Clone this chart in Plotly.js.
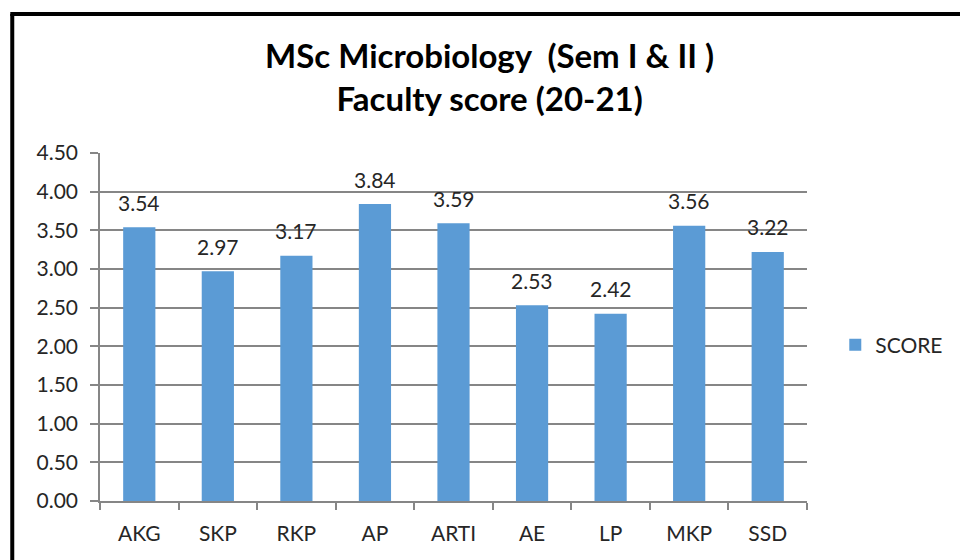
<!DOCTYPE html>
<html>
<head>
<meta charset="utf-8">
<script src="https://cdn.plot.ly/plotly-3.0.1.min.js"></script>
<style>html,body{margin:0;padding:0;background:#fff;}#chart{width:960px;height:560px;}</style>
</head>
<body>
<div id="chart"></div>
<script>
const categories = ["AKG", "SKP", "RKP", "AP", "ARTI", "AE", "LP", "MKP", "SSD"];
const scores = [3.54, 2.97, 3.17, 3.84, 3.59, 2.53, 2.42, 3.56, 3.22];
const seriesName = "SCORE";
const yTickValues = [0, 0.5, 1, 1.5, 2, 2.5, 3, 3.5, 4, 4.5];

const FONT = "Lato, Carlito, Calibri, 'Open Sans', sans-serif";
const GRAY = "#868686";
const TXT = "#262626";
const FS = 21;

const trace = {
  type: "bar",
  x: categories,
  y: scores,
  name: seriesName,
  marker: { color: "#5B9BD5" },
  showlegend: true,
  hoverinfo: "x+y"
};

const labels = categories.map((c, i) => ({
  x: c, y: scores[i], xref: "x", yref: "y",
  text: scores[i].toFixed(2),
  showarrow: false, yshift: 25,
  font: { family: FONT, size: FS, color: TXT }
}));

const layout = {
  width: 960, height: 560,
  paper_bgcolor: "#ffffff", plot_bgcolor: "#ffffff",
  margin: { l: 100, r: 151, t: 153, b: 59, pad: 0 },
  font: { family: FONT, size: FS, color: TXT },
  title: {
    text: "<b>MSc Microbiology  (Sem I &amp; II )<br>Faculty score (20-21)</b>",
    font: { family: FONT, size: 33, color: "#000000" },
    x: 0.51, xref: "container", xanchor: "center",
    y: 0.878, yref: "container", yanchor: "top"
  },
  bargap: 0.59,
  xaxis: {
    type: "category",
    showline: true, linecolor: GRAY, linewidth: 1.5,
    ticks: "outside", tickson: "boundaries", ticklen: 7, tickcolor: GRAY, tickwidth: 1.5,
    showgrid: false, zeroline: false,
    tickfont: { family: FONT, size: FS, color: TXT },
    ticklabelstandoff: 13
  },
  yaxis: {
    range: [0, 4.5], tickvals: yTickValues, tickformat: ".2f",
    showline: true, linecolor: GRAY, linewidth: 1.5,
    ticks: "outside", ticklen: 8, tickcolor: GRAY, tickwidth: 1.5,
    showgrid: true, gridcolor: GRAY, gridwidth: 1.5, zeroline: false,
    tickfont: { family: FONT, size: FS, color: TXT },
    ticklabelstandoff: 8
  },
  legend: {
    x: 1.04, xanchor: "left", y: 0.448, yanchor: "middle",
    font: { family: FONT, size: FS, color: TXT },
    bgcolor: "rgba(0,0,0,0)"
  },
  annotations: labels,
  shapes: [
    { type: "line", xref: "paper", yref: "paper", x0: -0.1241, x1: -0.1241, y0: -0.3, y1: 1.3994,
      line: { color: "#000000", width: 4 } },
    { type: "line", xref: "paper", yref: "paper", x0: -0.1269, x1: 1.4, y0: 1.3994, y1: 1.3994,
      line: { color: "#000000", width: 4 } }
  ]
};

Plotly.newPlot("chart", [trace], layout, { displayModeBar: false, responsive: false });
</script>
</body>
</html>
